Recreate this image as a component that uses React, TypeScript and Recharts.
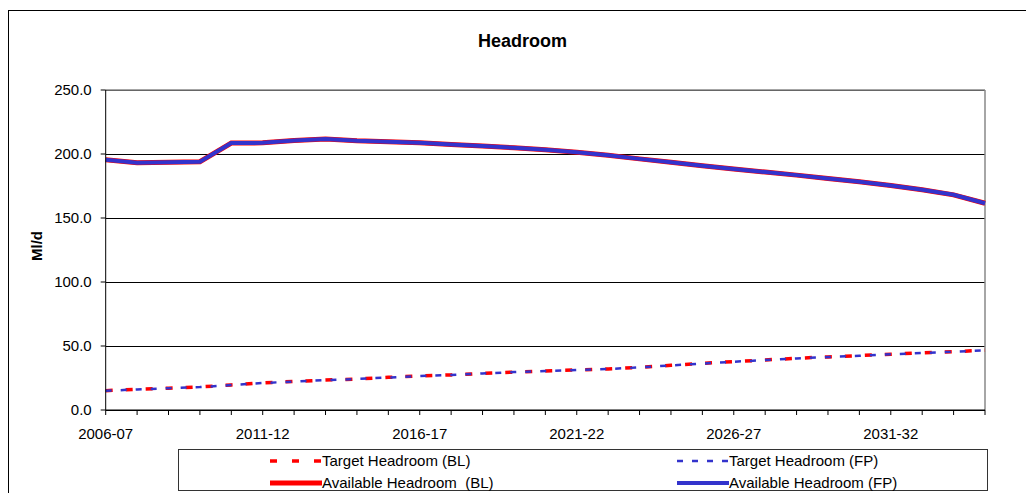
import React from 'react';
import { LineChart, Line, XAxis, YAxis, CartesianGrid, Legend, ReferenceLine } from 'recharts';

const categories = [
  '2006-07', '2007-08', '2008-09', '2009-10', '2010-11', '2011-12', '2012-13', '2013-14', '2014-15', '2015-16',
  '2016-17', '2017-18', '2018-19', '2019-20', '2020-21', '2021-22', '2022-23', '2023-24', '2024-25', '2025-26',
  '2026-27', '2027-28', '2028-29', '2029-30', '2030-31', '2031-32', '2032-33', '2033-34', '2034-35',
];

const targetBL = [15.1, 16.2, 17.0, 18.0, 19.6, 21.2, 22.3, 23.4, 24.2, 25.5, 26.6, 27.4, 28.6, 29.6, 30.5, 31.3, 32.1, 33.4, 34.9, 36.4, 37.8, 39.1, 40.4, 41.5, 42.5, 43.6, 44.6, 45.6, 46.7];
const targetFP = [15.0, 16.1, 17.0, 17.9, 19.5, 21.1, 22.2, 23.4, 24.2, 25.4, 26.5, 27.4, 28.5, 29.6, 30.4, 31.2, 32.0, 33.3, 34.8, 36.3, 37.7, 39.0, 40.3, 41.4, 42.4, 43.5, 44.5, 45.5, 46.6];
const availableBL = [195.5, 193.2, 193.6, 194.0, 208.6, 208.7, 210.5, 211.8, 210.3, 209.6, 208.8, 207.5, 206.2, 204.9, 203.4, 201.4, 199.0, 196.2, 193.5, 190.9, 188.3, 185.9, 183.5, 180.9, 178.3, 175.4, 172.0, 168.1, 161.5];
const availableFP = [195.5, 193.2, 193.6, 194.0, 208.6, 208.7, 210.5, 211.8, 210.3, 209.6, 208.8, 207.5, 206.2, 204.9, 203.4, 201.4, 199.0, 196.2, 193.5, 190.9, 188.3, 185.9, 183.5, 180.9, 178.3, 175.4, 172.0, 168.1, 161.5];

const yTicks = [0, 50, 100, 150, 200, 250];

const seriesNames = ['Target Headroom (BL)', 'Target Headroom (FP)', 'Available Headroom  (BL)', 'Available Headroom (FP)'];

const data = categories.map((c, i) => ({
  year: c,
  tBL: targetBL[i],
  tFP: targetFP[i],
  aBL: availableBL[i],
  aFP: availableFP[i],
}));

const FONT = '"Liberation Sans", Arial, sans-serif';
const RED = '#FF0000';
const BLUE = '#3333CC';

const series = [
  { key: 'tBL', name: seriesNames[0], color: RED, width: 3.5, dash: '7 13', legendDash: '7 15' },
  { key: 'tFP', name: seriesNames[1], color: BLUE, width: 2.5, dash: '6 9', legendDash: '6 9' },
  { key: 'aBL', name: seriesNames[2], color: RED, width: 5, dash: undefined, legendDash: undefined },
  { key: 'aFP', name: seriesNames[3], color: BLUE, width: 4, dash: undefined, legendDash: undefined },
];

const XTick = (props: any) => {
  const { x, y, payload, index } = props;
  if (index % 5 !== 0) return null;
  return (
    <text x={x} y={y + 22} textAnchor="middle" fontSize={15} fontFamily={FONT} fill="#000">
      {payload.value}
    </text>
  );
};

const LegendBox = () => {
  const cols = [91, 498];
  const rows = [11, 33];
  return (
    <div style={{ position: 'relative', width: 810, height: 42, border: '1px solid #333', background: '#fff', boxSizing: 'border-box' }}>
      {series.map((s, i) => {
        const col = cols[i % 2];
        const row = rows[Math.floor(i / 2)];
        return (
          <div key={s.key} style={{ position: 'absolute', left: col, top: row - 10, height: 20, display: 'flex', alignItems: 'center', whiteSpace: 'pre' }}>
            <svg width={52} height={20} style={{ display: 'block' }}>
              <line x1={0} y1={10} x2={52} y2={10} stroke={s.color} strokeWidth={s.width} strokeDasharray={s.legendDash} />
            </svg>
            <span style={{ fontFamily: FONT, fontSize: 15, color: '#000', lineHeight: '20px', whiteSpace: 'pre' }}>{s.name}</span>
          </div>
        );
      })}
    </div>
  );
};

export default function App() {
  return (
    <div style={{ position: 'absolute', left: 0, top: 0, width: 1026, height: 493, overflow: 'hidden', background: '#fff' }}>
      <div style={{ position: 'absolute', left: 8, top: 10, width: 1100, height: 600, border: '1.5px solid #000', boxSizing: 'border-box' }} />
      <div style={{ position: 'absolute', left: 0, top: 30, width: 1045, textAlign: 'center', fontFamily: FONT, fontWeight: 'bold', fontSize: 18, lineHeight: '22px', color: '#000' }}>
        Headroom
      </div>
      <div style={{ position: 'absolute', left: 37, top: 246, width: 0, height: 0 }}>
        <div style={{ position: 'absolute', left: -40, top: -10, width: 80, height: 20, textAlign: 'center', transform: 'rotate(-90deg)', fontFamily: FONT, fontWeight: 'bold', fontSize: 15, lineHeight: '20px', color: '#000' }}>
          Ml/d
        </div>
      </div>
      <div style={{ position: 'absolute', left: 0, top: 0 }}>
        <LineChart width={1026} height={493} data={data} margin={{ top: 90, right: 41, left: 45.7, bottom: 53 }}>
          <CartesianGrid vertical={false} stroke="#000" strokeWidth={1} strokeOpacity={1} shapeRendering="crispEdges" />
          <XAxis
            dataKey="year"
            interval={0}
            tick={<XTick />}
            tickSize={5}
            height={30}
            axisLine={{ stroke: '#000' }}
            tickLine={{ stroke: '#000' }}
          />
          <YAxis
            domain={[0, 250]}
            ticks={yTicks}
            tickFormatter={(v: number) => v.toFixed(1)}
            width={60}
            tickSize={5}
            tickMargin={9}
            axisLine={{ stroke: '#000' }}
            tickLine={{ stroke: '#000' }}
            tick={{ fontSize: 15, fontFamily: FONT, fill: '#000' }}
            allowDataOverflow
          />
          <ReferenceLine y={250} stroke="#888" strokeWidth={1.5} />
          <ReferenceLine x={categories[categories.length - 1]} stroke="#888" strokeWidth={1.5} />
          {series.map((s) => (
            <Line
              key={s.key}
              type="linear"
              dataKey={s.key}
              name={s.name}
              stroke={s.color}
              strokeWidth={s.width}
              strokeDasharray={s.dash}
              dot={false}
              activeDot={false}
              isAnimationActive={false}
            />
          ))}
          <Legend
            layout="vertical"
            align="center"
            verticalAlign="middle"
            content={<LegendBox />}
            wrapperStyle={{ position: 'absolute', left: 178, top: 449, width: 810, height: 42 }}
          />
        </LineChart>
      </div>
    </div>
  );
}
